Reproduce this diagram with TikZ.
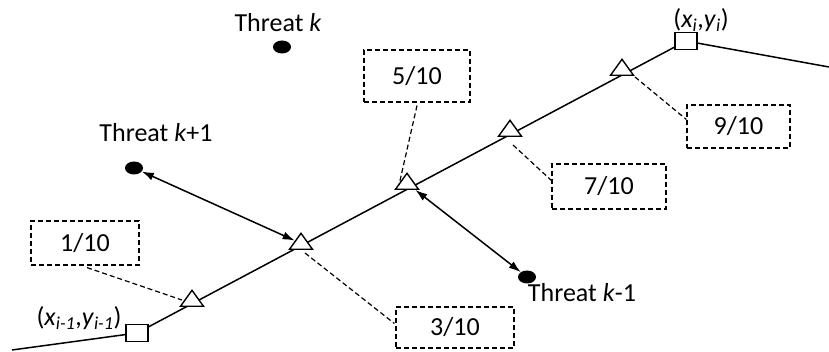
\documentclass[tikz,border=0pt]{standalone}
\usepackage{fontspec}
\setmainfont{Carlito}
\usetikzlibrary{shapes.geometric,arrows.meta,calc}

\begin{document}
\begin{tikzpicture}[x=1pt,y=-1pt,
  font=\fontsize{26}{30}\selectfont,
  route/.style={line width=1.5pt},
  waypt/.style={draw,fill=white,line width=1.4pt,minimum width=22pt,minimum height=17pt,inner sep=0pt},
  marker/.style={isosceles triangle,isosceles triangle stretches,shape border rotate=90,
    draw,fill=white,line width=1.4pt,minimum width=23pt,minimum height=16pt,inner sep=0pt,anchor=south},
  threat/.style={ellipse,fill=black,minimum width=18pt,minimum height=13pt,inner sep=0pt},
  fracbox/.style={draw,dash pattern=on 5pt off 3pt,line width=1.2pt,inner sep=0pt},
  leader/.style={dash pattern=on 5pt off 3pt,line width=1.2pt},
  rangearrow/.style={line width=1.5pt,{Latex[length=12pt,width=8pt]}-{Latex[length=12pt,width=8pt]}},
  lbl/.style={inner sep=0pt}]

\useasboundingbox (0,0) rectangle (829,352);

% path between the two waypoints
\coordinate (start) at (12,350);
\coordinate (pA) at (137,333);
\coordinate (pB) at (686,41);
\coordinate (finish) at (829,67);
\draw[route] (start) -- (pA) -- (pB) -- (finish);

% waypoints
\node[waypt] (sqA) at (pA) {};
\node[waypt] (sqB) at (pB) {};
\node[lbl] (labA) at (79,318) {(\textit{x}\textsubscript{\textit{i-1}},\textit{y}\textsubscript{\textit{i-1}})};
\node[lbl] (labB) at (701,20) {(\textit{x}\textsubscript{\textit{i}},\textit{y}\textsubscript{\textit{i}})};

% sample points along the segment
\node[marker] (t1) at (192,307) {};
\node[marker] (t3) at (301,250) {};
\node[marker] (t5) at (407,190) {};
\node[marker] (t7) at (510,137) {};
\node[marker] (t9) at (622,76) {};

% fraction boxes
\node[fracbox,minimum width=108pt,minimum height=44pt] (b1) at (85,243) {1/10};
\node[fracbox,minimum width=118pt,minimum height=41pt] (b3) at (455,327.5) {3/10};
\node[fracbox,minimum width=106pt,minimum height=52pt] (b5) at (417,76) {5/10};
\node[fracbox,minimum width=114pt,minimum height=45pt] (b7) at (609,186.5) {7/10};
\node[fracbox,minimum width=103pt,minimum height=43pt] (b9) at (738.5,126.5) {9/10};

% leaders from boxes to sample points
\draw[leader] ($(b1.south)+(2,2)$) -- ($(t1.south)+(-10,-7)$);
\draw[leader] ($(t3.south)+(4,3)$) -- ($(b3.west)+(-1,-4)$);
\draw[leader] ($(b5.south)+(0,3)$) -- ($(t5.south)+(-8,-5)$);
\draw[leader] ($(t7.south)+(3,8)$) -- ($(b7.west)+(0,-6)$);
\draw[leader] ($(t9.south)+(13,1)$) -- ($(b9.west)+(0,-7)$);

% threats
\node[threat] (thk) at (282,47) {};
\node[threat] (thkp) at (134,168) {};
\node[threat] (thkm) at (527,277) {};
\node[lbl] (lk) at (278,23) {Threat \textit{k}};
\node[lbl] (lkp) at (156,133) {Threat \textit{k}+1};
\node[lbl] (lkm) at (582,293) {Threat \textit{k}-1};

% distances to threats
\draw[rangearrow] (thkp) -- (t3);
\draw[rangearrow] (t5) -- (thkm);

\end{tikzpicture}
\end{document}
